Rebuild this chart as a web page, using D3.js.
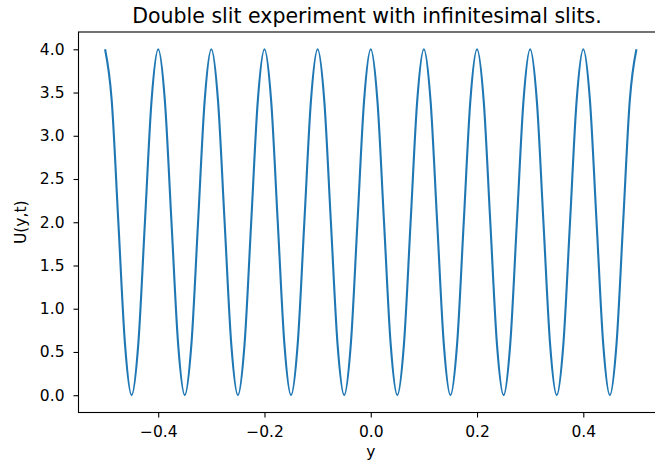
<!DOCTYPE html>
<html>
<head>
<meta charset="utf-8">
<script src="https://cdn.jsdelivr.net/npm/d3@7"></script>
<style>
  body { margin: 0; background: #fff; }
  text { font-family: "DejaVu Sans", sans-serif; }
</style>
</head>
<body>
<svg id="chart" width="655" height="469"></svg>
<script>
// posiciones y valores
const posY = [
  -0.5, -0.4875, -0.475, -0.4625, -0.45, -0.4375, -0.425, -0.4125,
  -0.4, -0.3875, -0.375, -0.3625, -0.35, -0.3375, -0.325, -0.3125,
  -0.3, -0.2875, -0.275, -0.2625, -0.25, -0.2375, -0.225, -0.2125,
  -0.2, -0.1875, -0.175, -0.1625, -0.15, -0.1375, -0.125, -0.1125,
  -0.1, -0.0875, -0.075, -0.0625, -0.05, -0.0375, -0.025, -0.0125,
  0.0, 0.0125, 0.025, 0.0375, 0.05, 0.0625, 0.075, 0.0875,
  0.1, 0.1125, 0.125, 0.1375, 0.15, 0.1625, 0.175, 0.1875,
  0.2, 0.2125, 0.225, 0.2375, 0.25, 0.2625, 0.275, 0.2875,
  0.3, 0.3125, 0.325, 0.3375, 0.35, 0.3625, 0.375, 0.3875,
  0.4, 0.4125, 0.425, 0.4375, 0.45, 0.4625, 0.475, 0.4875,
  0.5
];
const valoresU = [
  4.0, 3.41, 2.0, 0.59, 0.0, 0.59, 2.0, 3.41,
  4.0, 3.41, 2.0, 0.59, 0.0, 0.59, 2.0, 3.41,
  4.0, 3.41, 2.0, 0.59, 0.0, 0.59, 2.0, 3.41,
  4.0, 3.41, 2.0, 0.59, 0.0, 0.59, 2.0, 3.41,
  4.0, 3.41, 2.0, 0.59, 0.0, 0.59, 2.0, 3.41,
  4.0, 3.41, 2.0, 0.59, 0.0, 0.59, 2.0, 3.41,
  4.0, 3.41, 2.0, 0.59, 0.0, 0.59, 2.0, 3.41,
  4.0, 3.41, 2.0, 0.59, 0.0, 0.59, 2.0, 3.41,
  4.0, 3.41, 2.0, 0.59, 0.0, 0.59, 2.0, 3.41,
  4.0, 3.41, 2.0, 0.59, 0.0, 0.59, 2.0, 3.41,
  4.0
];
const ticksX = [-0.4, -0.2, 0.0, 0.2, 0.4];
const ticksY = [0.0, 0.5, 1.0, 1.5, 2.0, 2.5, 3.0, 3.5, 4.0];

const svg = d3.select("#chart");
const margen = { left: 78.5, right: 663, top: 32, bottom: 412.5 };

const x = d3.scaleLinear().domain([-0.55, 0.55]).range([margen.left, margen.right]);
const y = d3.scaleLinear().domain([-0.2, 4.2]).range([margen.bottom, margen.top]);

const datos = posY.map((p, i) => ({ p: p, u: valoresU[i] }));

// curva
svg.append("path")
    .datum(datos)
    .attr("fill", "none")
    .attr("stroke", "#1f77b4")
    .attr("stroke-width", 2.1)
    .attr("stroke-linejoin", "round")
    .attr("d", d3.line()
        .x(d => x(d.p))
        .y(d => y(d.u))
        .curve(d3.curveMonotoneX));

// ejes
const ejeX = svg.append("g")
    .attr("transform", `translate(0,${margen.bottom})`)
    .call(d3.axisBottom(x).tickValues(ticksX).tickFormat(d3.format(".1f"))
        .tickSize(5).tickPadding(8.5));

const ejeY = svg.append("g")
    .attr("transform", `translate(${margen.left},0)`)
    .call(d3.axisLeft(y).tickValues(ticksY).tickFormat(d3.format(".1f"))
        .tickSize(5).tickPadding(9));

[ejeX, ejeY].forEach(g => {
    g.select(".domain").remove();
    g.selectAll("line").attr("stroke", "#000").attr("stroke-width", 1.1);
    g.selectAll("text").style("font-size", "15.5px").attr("fill", "#000");
});

// marco
svg.append("rect")
    .attr("x", margen.left).attr("y", margen.top)
    .attr("width", margen.right - margen.left).attr("height", margen.bottom - margen.top)
    .attr("fill", "none").attr("stroke", "#000").attr("stroke-width", 1.1);

// textos
svg.append("text")
    .attr("x", 367).attr("y", 23)
    .attr("text-anchor", "middle")
    .style("font-size", "20.5px")
    .text("Double slit experiment with infinitesimal slits.");

svg.append("text")
    .attr("x", x(0)).attr("y", 457)
    .attr("text-anchor", "middle")
    .style("font-size", "15.5px")
    .text("y");

svg.append("text")
    .attr("transform", `translate(26,${(margen.top + margen.bottom) / 2}) rotate(-90)`)
    .attr("text-anchor", "middle")
    .style("font-size", "15.5px")
    .text("U(y,t)");
</script>
</body>
</html>
